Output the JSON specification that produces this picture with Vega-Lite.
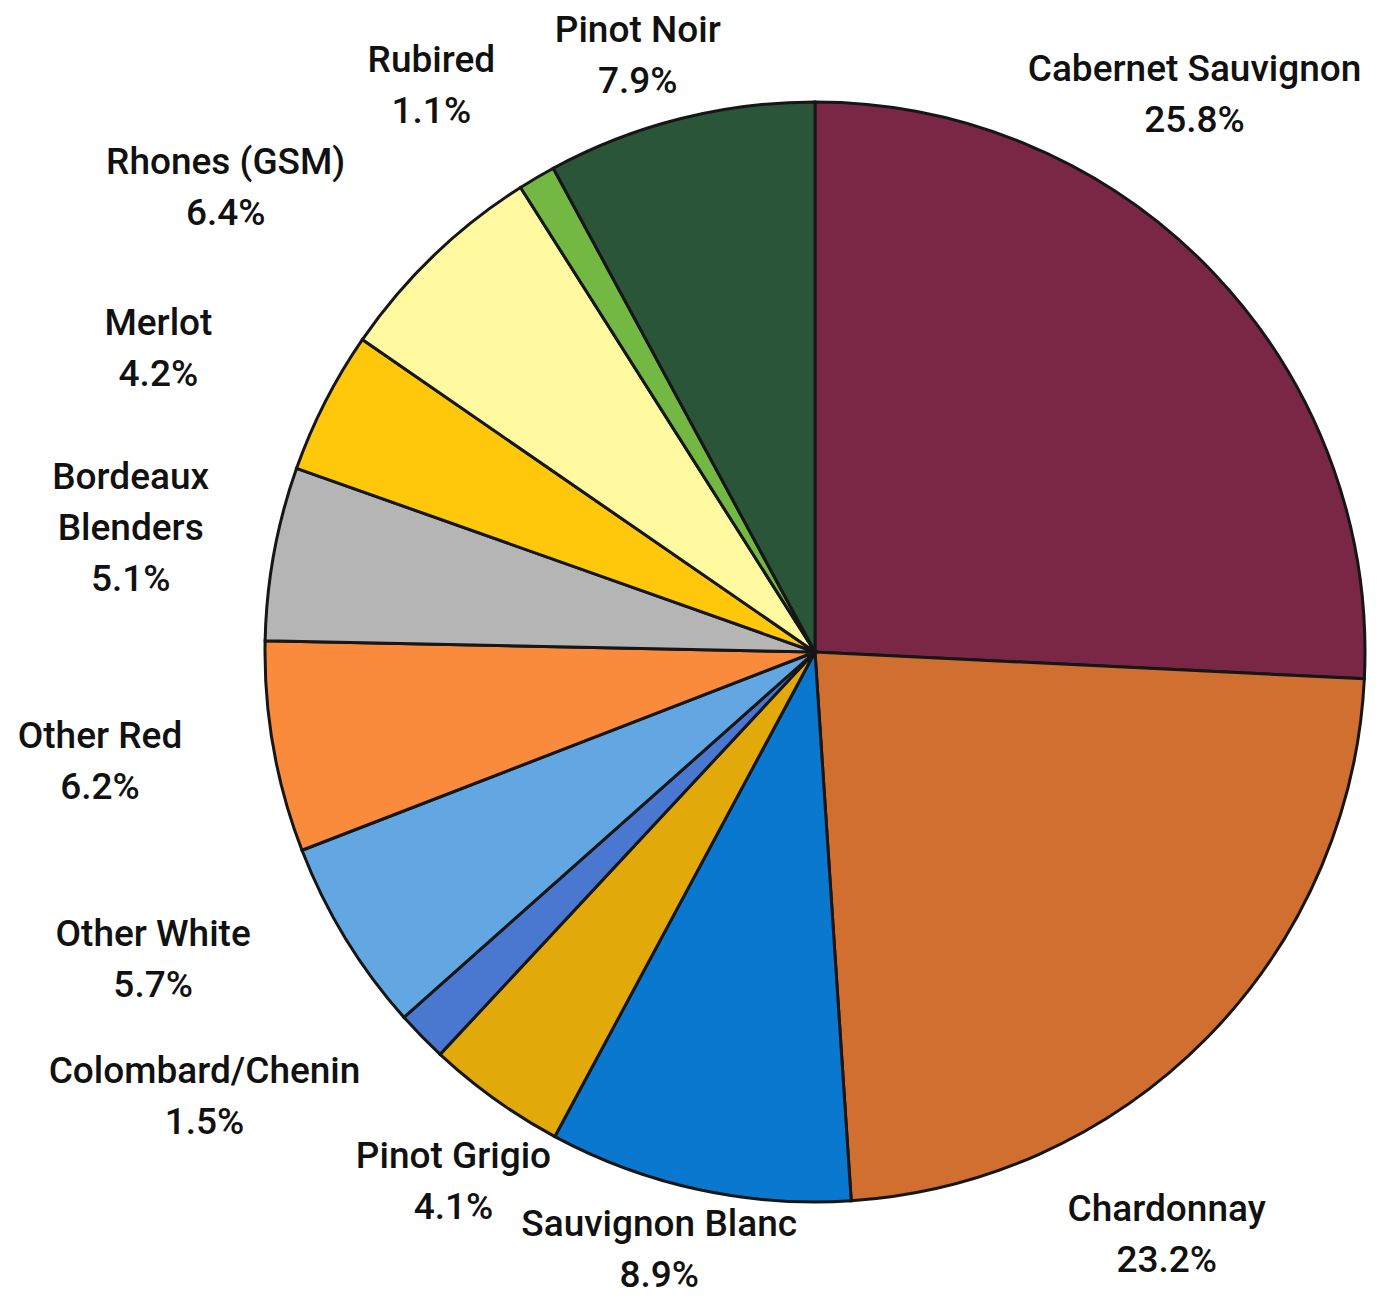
{
  "$schema": "https://vega.github.io/schema/vega-lite/v6.json",
  "width": 1134,
  "height": 1304,
  "autosize": {"type": "none"},
  "padding": {"left": 248, "top": 0, "right": 0, "bottom": 0},
  "background": "white",
  "view": {"stroke": null},
  "config": {"text": {"font": "Roboto", "fontWeight": 500, "fontSize": 37, "lineHeight": 51, "lineBreak": "\n", "align": "center", "baseline": "middle", "fill": "#111111"}},
  "data": {"values": [
    {"i": 1, "variety": "Cabernet Sauvignon", "pct": 25.8, "label": "Cabernet Sauvignon\n25.8%"},
    {"i": 2, "variety": "Chardonnay", "pct": 23.2, "label": "Chardonnay\n23.2%"},
    {"i": 3, "variety": "Sauvignon Blanc", "pct": 8.9, "label": "Sauvignon Blanc\n8.9%"},
    {"i": 4, "variety": "Pinot Grigio", "pct": 4.1, "label": "Pinot Grigio\n4.1%"},
    {"i": 5, "variety": "Colombard/Chenin", "pct": 1.5, "label": "Colombard/Chenin\n1.5%"},
    {"i": 6, "variety": "Other White", "pct": 5.7, "label": "Other White\n5.7%"},
    {"i": 7, "variety": "Other Red", "pct": 6.2, "label": "Other Red\n6.2%"},
    {"i": 8, "variety": "Bordeaux Blenders", "pct": 5.1, "label": "Bordeaux\nBlenders\n5.1%"},
    {"i": 9, "variety": "Merlot", "pct": 4.2, "label": "Merlot\n4.2%"},
    {"i": 10, "variety": "Rhones (GSM)", "pct": 6.4, "label": "Rhones (GSM)\n6.4%"},
    {"i": 11, "variety": "Rubired", "pct": 1.1, "label": "Rubired\n1.1%"},
    {"i": 12, "variety": "Pinot Noir", "pct": 7.9, "label": "Pinot Noir\n7.9%"}
  ]},
  "encoding": {
    "theta": {"field": "pct", "type": "quantitative", "stack": true},
    "order": {"field": "i", "type": "quantitative"},
    "color": {
      "field": "variety", "type": "nominal", "legend": null,
      "scale": {
        "domain": ["Cabernet Sauvignon", "Chardonnay", "Sauvignon Blanc", "Pinot Grigio", "Colombard/Chenin", "Other White", "Other Red", "Bordeaux Blenders", "Merlot", "Rhones (GSM)", "Rubired", "Pinot Noir"],
        "range": ["#792647", "#D06F30", "#0A78CF", "#E2A90A", "#4A78D0", "#62A7E2", "#FA8A3C", "#B5B5B5", "#FFC80A", "#FFFAA0", "#72B843", "#2A5539"]
      }
    }
  },
  "layer": [
    {"mark": {"type": "arc", "outerRadius": 550, "stroke": "#161616", "strokeWidth": 3}},
    {"mark": {"type": "text", "radius": 695, "thetaOffset": -0.232},
     "encoding": {"color": {"value": "#111111"}, "text": {"condition": {"test": "datum.variety == 'Cabernet Sauvignon'", "field": "label", "type": "nominal"}, "value": ""}}},
    {"mark": {"type": "text", "radius": 660, "thetaOffset": 0.232},
     "encoding": {"color": {"value": "#111111"}, "text": {"condition": {"test": "datum.variety == 'Chardonnay'", "field": "label", "type": "nominal"}, "value": ""}}},
    {"mark": {"type": "text", "radius": 594, "thetaOffset": 0.052},
     "encoding": {"color": {"value": "#111111"}, "text": {"condition": {"test": "datum.variety == 'Sauvignon Blanc'", "field": "label", "type": "nominal"}, "value": ""}}},
    {"mark": {"type": "text", "radius": 621},
     "encoding": {"color": {"value": "#111111"}, "text": {"condition": {"test": "datum.variety == 'Pinot Grigio'", "field": "label", "type": "nominal"}, "value": ""}}},
    {"mark": {"type": "text", "radius": 741, "thetaOffset": 0.171},
     "encoding": {"color": {"value": "#111111"}, "text": {"condition": {"test": "datum.variety == 'Colombard/Chenin'", "field": "label", "type": "nominal"}, "value": ""}}},
    {"mark": {"type": "text", "radius": 720, "thetaOffset": 0.143},
     "encoding": {"color": {"value": "#111111"}, "text": {"condition": {"test": "datum.variety == 'Other White'", "field": "label", "type": "nominal"}, "value": ""}}},
    {"mark": {"type": "text", "radius": 720, "thetaOffset": 0.056},
     "encoding": {"color": {"value": "#111111"}, "text": {"condition": {"test": "datum.variety == 'Other Red'", "field": "label", "type": "nominal"}, "value": ""}}},
    {"mark": {"type": "text", "radius": 706, "thetaOffset": 0.068},
     "encoding": {"color": {"value": "#111111"}, "text": {"condition": {"test": "datum.variety == 'Bordeaux Blenders'", "field": "label", "type": "nominal"}, "value": ""}}},
    {"mark": {"type": "text", "radius": 734, "thetaOffset": -0.009},
     "encoding": {"color": {"value": "#111111"}, "text": {"condition": {"test": "datum.variety == 'Merlot'", "field": "label", "type": "nominal"}, "value": ""}}},
    {"mark": {"type": "text", "radius": 766, "thetaOffset": -0.112},
     "encoding": {"color": {"value": "#111111"}, "text": {"condition": {"test": "datum.variety == 'Rhones (GSM)'", "field": "label", "type": "nominal"}, "value": ""}}},
    {"mark": {"type": "text", "radius": 705, "thetaOffset": -0.045},
     "encoding": {"color": {"value": "#111111"}, "text": {"condition": {"test": "datum.variety == 'Rubired'", "field": "label", "type": "nominal"}, "value": ""}}},
    {"mark": {"type": "text", "radius": 646, "thetaOffset": -0.03},
     "encoding": {"color": {"value": "#111111"}, "text": {"condition": {"test": "datum.variety == 'Pinot Noir'", "field": "label", "type": "nominal"}, "value": ""}}}
  ]
}
